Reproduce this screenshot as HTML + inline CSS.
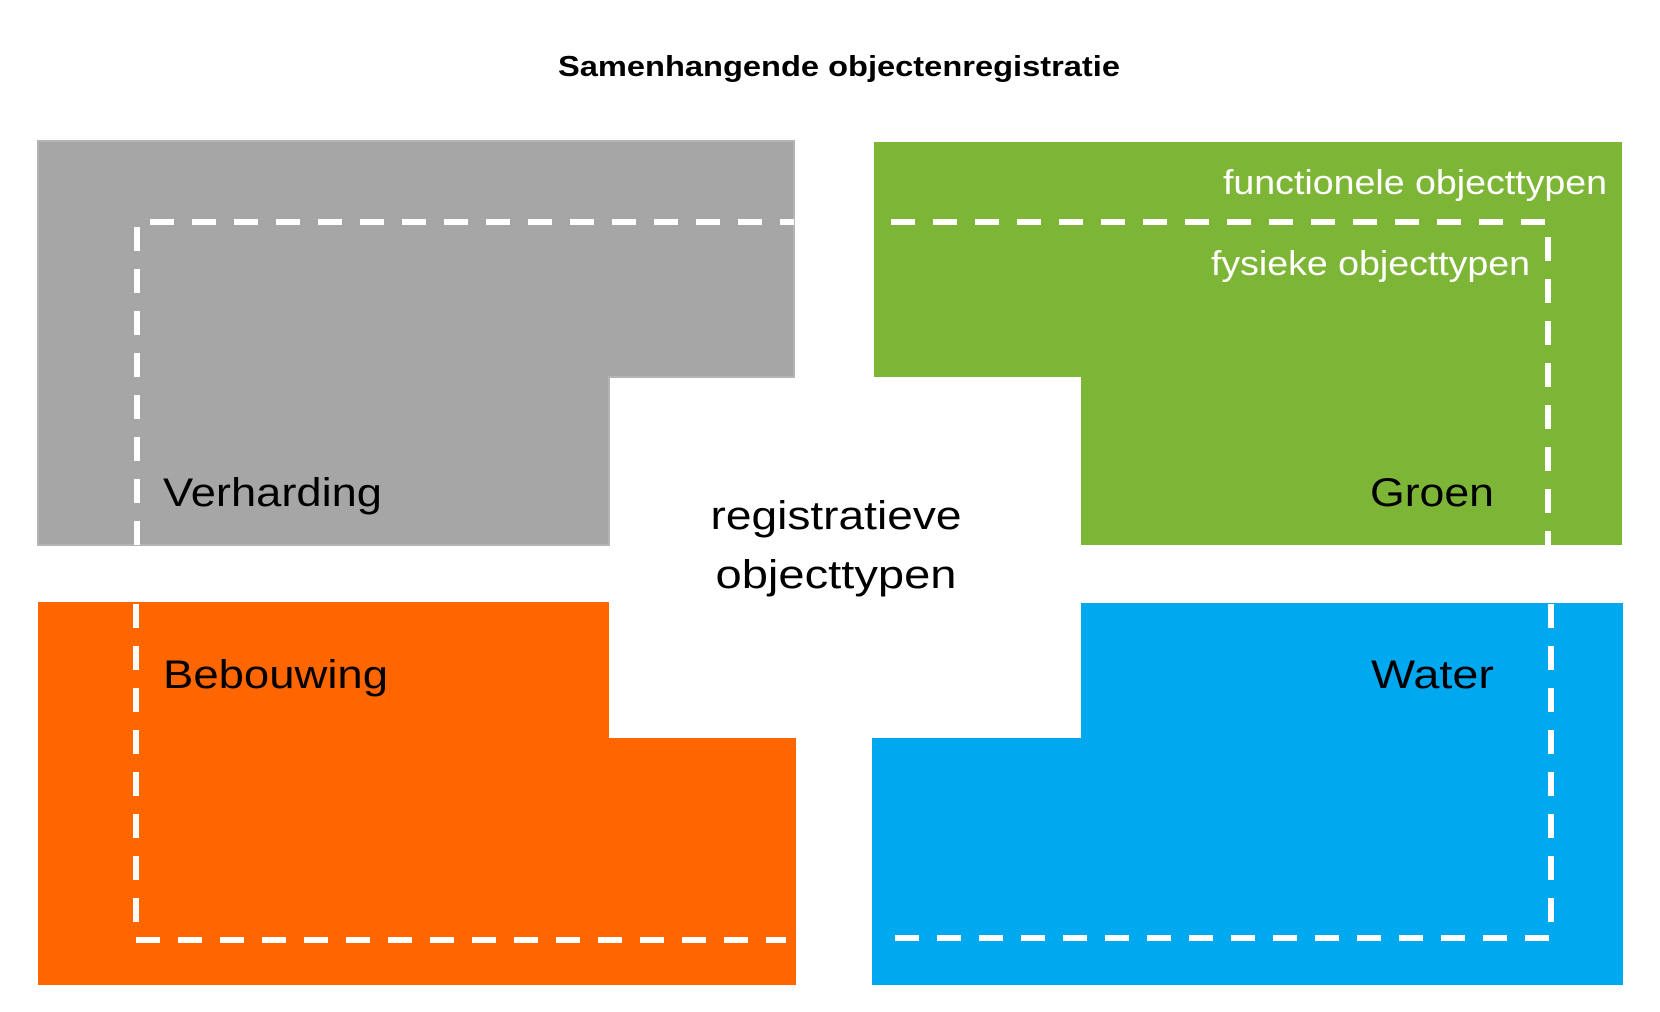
<!DOCTYPE html>
<html><head><meta charset="utf-8"><style>html,body{margin:0;padding:0;background:#fff}svg{display:block}</style></head>
<body>
<svg width="1660" height="1012" viewBox="0 0 1660 1012" xmlns="http://www.w3.org/2000/svg">
<rect width="1660" height="1012" fill="#fff"/>
<text x="839" y="76" text-anchor="middle" font-family="Liberation Sans, sans-serif" font-weight="bold" font-size="29" textLength="562" lengthAdjust="spacingAndGlyphs" fill="#000">Samenhangende objectenregistratie</text>
<path d="M38 141 H794 V377 H609 V545 H38 Z" fill="#a6a6a6" stroke="#b4b4b4" stroke-width="2"/>
<path d="M874 142 H1622 V545 H1081 V377 H874 Z" fill="#7db637"/>
<path d="M38 602 H609 V738 H796 V985 H38 Z" fill="#ff6600"/>
<path d="M1081 603 H1623 V985 H872 V738 H1081 Z" fill="#00a8f0"/>
<g fill="none" stroke="#fff" stroke-width="6" stroke-dasharray="24 18">
<path d="M137 545 V222 H794"/>
<path d="M891 222 H1548 V545"/>
<path d="M136 604 V940 H786"/>
<path d="M1551 604 V938 H879"/>
</g>
<g font-family="Liberation Sans, sans-serif" font-size="40" fill="#000">
<text x="163" y="506" textLength="219" lengthAdjust="spacingAndGlyphs">Verharding</text>
<text x="1494" y="506" text-anchor="end" textLength="124" lengthAdjust="spacingAndGlyphs">Groen</text>
<text x="163" y="688" textLength="225" lengthAdjust="spacingAndGlyphs">Bebouwing</text>
<text x="1494" y="688" text-anchor="end" textLength="123" lengthAdjust="spacingAndGlyphs">Water</text>
<text x="836" y="529" text-anchor="middle" textLength="251" lengthAdjust="spacingAndGlyphs">registratieve</text>
<text x="836" y="588" text-anchor="middle" textLength="241" lengthAdjust="spacingAndGlyphs">objecttypen</text>
</g>
<g font-family="Liberation Sans, sans-serif" font-size="34" fill="#fff">
<text x="1607" y="194" text-anchor="end" textLength="384" lengthAdjust="spacingAndGlyphs">functionele objecttypen</text>
<text x="1530" y="275" text-anchor="end" textLength="319" lengthAdjust="spacingAndGlyphs">fysieke objecttypen</text>
</g>
</svg>
</body></html>
